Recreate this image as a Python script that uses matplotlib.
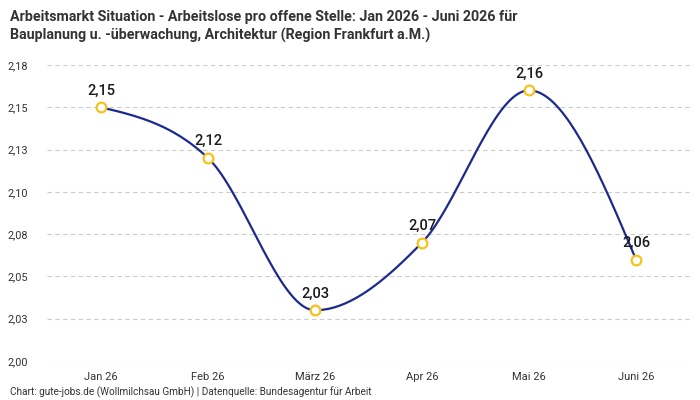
import numpy as np
import matplotlib.pyplot as plt
from decimal import Decimal, ROUND_HALF_UP

plt.rcParams['font.family'] = ['Roboto', 'DejaVu Sans']

# Daten
monate = ['Jan 26', 'Feb 26', 'März 26', 'Apr 26', 'Mai 26', 'Juni 26']
werte = [2.15, 2.12, 2.03, 2.07, 2.16, 2.06]
y_ticks = [2.0, 2.025, 2.05, 2.075, 2.1, 2.125, 2.15, 2.175]


def fmt(v):
    d = Decimal(str(v)).quantize(Decimal('0.01'), rounding=ROUND_HALF_UP)
    return str(d).replace('.', ',')


def monotone_kurve(x, y, n=40):
    # monotone kubische Interpolation (wie d3 curveMonotoneX)
    x = np.asarray(x, float)
    y = np.asarray(y, float)
    h = np.diff(x)
    s = np.diff(y) / h
    m = np.zeros_like(y)
    for i in range(1, len(y) - 1):
        if s[i-1] * s[i] <= 0:
            m[i] = 0
        else:
            p = (s[i-1] * h[i] + s[i] * h[i-1]) / (h[i-1] + h[i])
            m[i] = (np.sign(s[i-1]) + np.sign(s[i])) * min(abs(s[i-1]), abs(s[i]), 0.5 * abs(p))
    m[0] = (3 * s[0] - m[1]) / 2
    m[-1] = (3 * s[-1] - m[-2]) / 2
    xs, ys = [], []
    for i in range(len(x) - 1):
        t = np.linspace(0, 1, n)
        h00 = 2*t**3 - 3*t**2 + 1
        h10 = t**3 - 2*t**2 + t
        h01 = -2*t**3 + 3*t**2
        h11 = t**3 - t**2
        xs.append(x[i] + t * h[i])
        ys.append(h00*y[i] + h10*h[i]*m[i] + h01*y[i+1] + h11*h[i]*m[i+1])
    return np.concatenate(xs), np.concatenate(ys)


fig = plt.figure(figsize=(7, 4), dpi=100)
ax = fig.add_axes([47.5/700, 0.0975, 642/700, 0.74])

pos = np.arange(len(monate))
kx, ky = monotone_kurve(pos, werte)
ax.plot(kx, ky, color='#1b2a8e', linewidth=1.6, zorder=3)
ax.plot(pos, werte, 'o', markersize=7, markerfacecolor='white',
        markeredgecolor='#f7c21b', markeredgewidth=1.6, zorder=4)

for xi, v in zip(pos, werte):
    ax.annotate(fmt(v), (xi, v), xytext=(0, 7),
                textcoords='offset points', ha='center', va='bottom',
                fontsize=10.5, fontweight='medium', color='#1a1a1a', zorder=5)

ax.set_xlim(-0.5, 5.5)
ax.set_ylim(2.0, 2.175)
ax.set_xticks(pos)
ax.set_xticklabels(monate, fontsize=8, color='#333333')
ax.set_yticks(y_ticks)
ax.set_yticklabels([fmt(t) for t in y_ticks], fontsize=7.8, color='#333333')
ax.tick_params(length=0, pad=8)
ax.tick_params(axis='y', pad=14)
ax.grid(axis='y', color='#cccccc', linestyle=(0, (4, 3)), linewidth=0.8)
for sp in ax.spines.values():
    sp.set_visible(False)

fig.text(0.014, 0.975, 'Arbeitsmarkt Situation - Arbeitslose pro offene Stelle: Jan 2026 - Juni 2026 für\n'
         'Bauplanung u. -überwachung, Architektur (Region Frankfurt a.M.)',
         ha='left', va='top', fontsize=10.3, fontweight='bold', color='#333333', linespacing=1.3)
fig.text(0.014, 0.004, 'Chart: gute-jobs.de (Wollmilchsau GmbH) | Datenquelle: Bundesagentur für Arbeit',
         ha='left', va='bottom', fontsize=7.2, color='#333333')

fig.savefig('out.png', dpi=100)
